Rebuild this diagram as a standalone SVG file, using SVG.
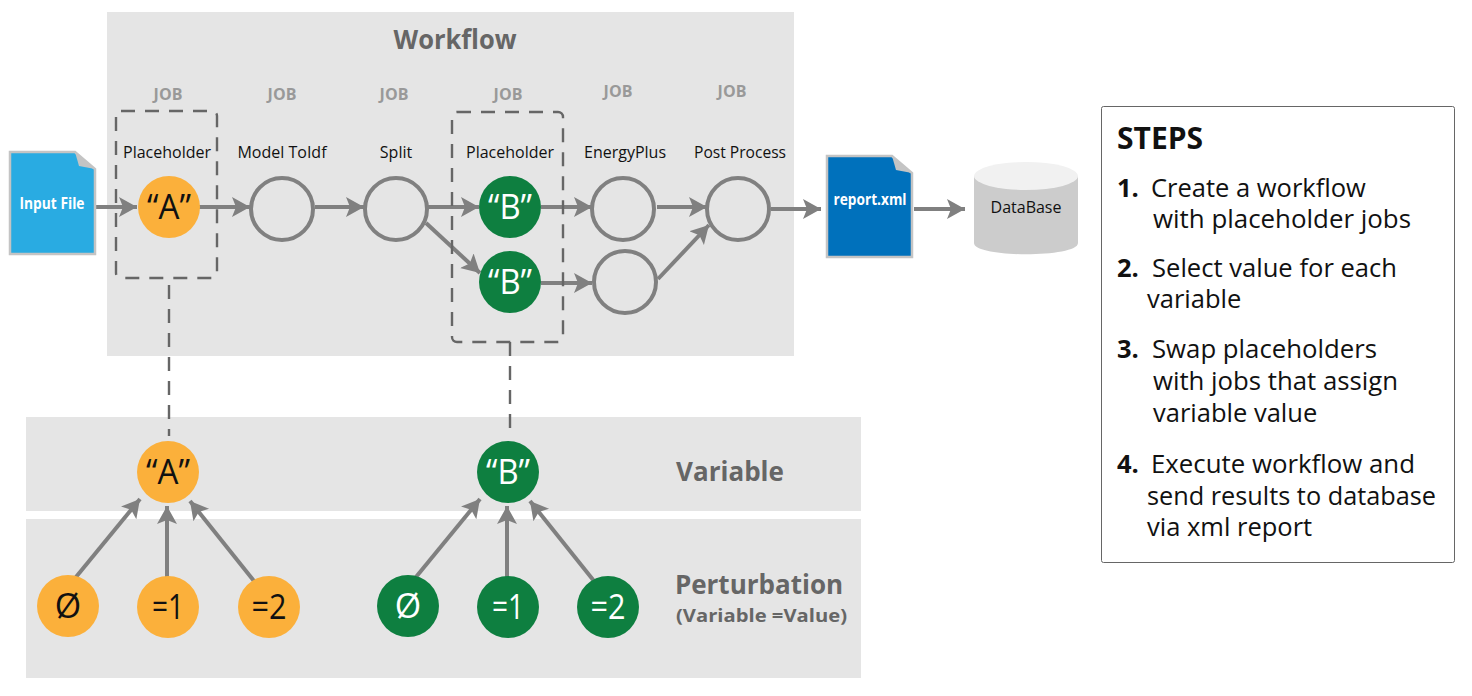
<svg xmlns="http://www.w3.org/2000/svg" width="1472" height="696" viewBox="0 0 1472 696">
<style>
text{font-family:"Open Sans","Noto Sans","Liberation Sans",sans-serif}
.band{fill:#e5e5e5}
.job{font-size:16px;font-weight:700;fill:#999;text-anchor:middle}
.nm{font-size:16px;fill:#111;text-anchor:middle}
.o{fill:#fbb03b}.g{fill:#0e7f40}.e{fill:none;stroke:#808080;stroke-width:4}
.big{font-size:34px;text-anchor:middle;fill:#111}
.bw{font-size:34px;text-anchor:middle;fill:#fff}
.c{fill:none;stroke:#808080;stroke-width:4;marker-end:url(#a)}
.d{fill:none;stroke:#666;stroke-width:2.4;stroke-dasharray:14 10}
.head{font-size:26px;font-weight:700;fill:#666;text-anchor:middle}
.s{font-size:25.5px;fill:#111}
.sb{font-size:25.5px;font-weight:700;fill:#111}
</style>
<defs>
<marker id="a" markerUnits="userSpaceOnUse" markerWidth="22" markerHeight="22" refX="18" refY="10" orient="auto"><path d="M0 0L18 10L0 20L4 10Z" fill="#808080"/></marker>
</defs>
<rect class="band" x="107" y="12" width="687" height="344"/>
<rect class="band" x="26" y="417" width="835" height="94"/>
<rect class="band" x="26" y="519" width="835" height="159"/>
<text class="head" x="455" y="49" textLength="123" lengthAdjust="spacingAndGlyphs">Workflow</text>
<text class="head" x="730" y="481">Variable</text>
<text class="head" x="759" y="593.5">Perturbation</text>
<text x="761.5" y="621.5" text-anchor="middle" style="font-size:18.5px;font-weight:700;fill:#666" textLength="171" lengthAdjust="spacingAndGlyphs">(Variable =Value)</text>
<g id="connectors">
<path class="c" d="M96 207H137"/>
<path class="c" d="M199 207H250"/>
<path class="c" d="M315 207H364"/>
<path class="c" d="M428 207H479"/>
<path class="c" d="M426 223L480 273"/>
<path class="c" d="M541 207H592"/>
<path class="c" d="M541 283H592"/>
<path class="c" d="M657 207H707"/>
<path class="c" d="M658 279L709 225"/>
<path class="c" d="M771 209H821"/>
<path class="c" d="M914 209H965"/>
<path class="c" d="M76 577L140 499"/>
<path class="c" d="M167 577V506"/>
<path class="c" d="M254 581L190 501"/>
<path class="c" d="M416 577L480 499"/>
<path class="c" d="M507 577V506"/>
<path class="c" d="M594 581L530 501"/>
<path class="d" d="M169 285V436"/>
<path class="d" d="M510 342V432"/>
</g>
<g id="input-file"><path d="M10 152H75L95 169V254H10Z" fill="#29abe2" stroke="#c4c4c4" stroke-width="2.5"/><path d="M75 152L95 169L79 166Z" fill="#c4c4c4"/><text x="52" y="209" text-anchor="middle" style="font-size:16px;font-weight:700;fill:#fff" textLength="65" lengthAdjust="spacingAndGlyphs">Input File</text></g>
<g id="job-a"><rect class="d" x="116" y="111" width="101" height="167" rx="5"/><text class="job" x="168" y="100">JOB</text><text class="nm" x="167" y="158">Placeholder</text><circle class="o" cx="169" cy="207" r="31"/><text class="big" x="169" y="219" textLength="44" lengthAdjust="spacingAndGlyphs">“A”</text></g>
<g id="job-model"><text class="job" x="282" y="100">JOB</text><text class="nm" x="282" y="158">Model ToIdf</text><circle class="e" cx="282" cy="209" r="31"/></g>
<g id="job-split"><text class="job" x="394" y="100">JOB</text><text class="nm" x="396" y="158">Split</text><circle class="e" cx="396" cy="209" r="31"/></g>
<g id="job-b"><rect class="d" x="452" y="112" width="111" height="230" rx="5"/><text class="job" x="508" y="100">JOB</text><text class="nm" x="510" y="158">Placeholder</text><circle class="g" cx="510" cy="207" r="31"/><text class="bw" x="510" y="219" textLength="44" lengthAdjust="spacingAndGlyphs">“B”</text><circle class="g" cx="510" cy="282" r="31"/><text class="bw" x="510" y="294" textLength="44" lengthAdjust="spacingAndGlyphs">“B”</text></g>
<g id="job-energy"><text class="job" x="618" y="97">JOB</text><text class="nm" x="625" y="158">EnergyPlus</text><circle class="e" cx="623" cy="209" r="31"/><circle class="e" cx="625" cy="282" r="31"/></g>
<g id="job-post"><text class="job" x="732" y="97">JOB</text><text class="nm" x="740" y="158" textLength="92" lengthAdjust="spacingAndGlyphs">Post Process</text><circle class="e" cx="738" cy="209" r="31"/></g>
<g id="report"><path d="M827 156H892L912 173V257H827Z" fill="#0071bc" stroke="#c4c4c4" stroke-width="2.5"/><path d="M892 156L912 173L896 170Z" fill="#c4c4c4"/><text x="870" y="205" text-anchor="middle" style="font-size:16px;font-weight:700;fill:#fff" textLength="73" lengthAdjust="spacingAndGlyphs">report.xml</text></g>
<g id="database"><path d="M974 176V243C974 258 1078 258 1078 243V176Z" fill="#ccc"/><ellipse cx="1026" cy="176" rx="52" ry="14" fill="#f1f1f1"/><text x="1026" y="213" text-anchor="middle" style="font-size:16px;fill:#111">DataBase</text></g>
<g id="var-a"><circle class="o" cx="168" cy="472" r="31"/><text class="big" x="168" y="484" textLength="44" lengthAdjust="spacingAndGlyphs">“A”</text></g>
<g id="var-b"><circle class="g" cx="508" cy="472" r="31"/><text class="bw" x="508" y="484" textLength="44" lengthAdjust="spacingAndGlyphs">“B”</text></g>
<g id="pa0"><circle class="o" cx="68" cy="606" r="31"/><text class="big" x="68" y="618">Ø</text></g>
<g id="pa1"><circle class="o" cx="168" cy="607" r="31"/><text class="big" x="168" y="619" textLength="32" lengthAdjust="spacingAndGlyphs">=1</text></g>
<g id="pa2"><circle class="o" cx="269" cy="607" r="31"/><text class="big" x="269" y="619" textLength="35" lengthAdjust="spacingAndGlyphs">=2</text></g>
<g id="pb0"><circle class="g" cx="408" cy="606" r="31"/><text class="bw" x="408" y="618">Ø</text></g>
<g id="pb1"><circle class="g" cx="508" cy="607" r="31"/><text class="bw" x="508" y="619" textLength="32" lengthAdjust="spacingAndGlyphs">=1</text></g>
<g id="pb2"><circle class="g" cx="608" cy="607" r="31"/><text class="bw" x="608" y="619" textLength="35" lengthAdjust="spacingAndGlyphs">=2</text></g>
<g id="steps"><rect x="1101.5" y="106.5" width="353" height="456" rx="2" fill="#fff" stroke="#666" stroke-width="1"/>
<text x="1117" y="149" style="font-size:30px;font-weight:700;fill:#111">STEPS</text>
<text class="sb" x="1117" y="197">1.</text><text class="s" x="1151" y="197">Create a workflow</text>
<text class="s" x="1153" y="228" textLength="258" lengthAdjust="spacingAndGlyphs">with placeholder jobs</text>
<text class="sb" x="1117" y="277">2.</text><text class="s" x="1152" y="277" textLength="245" lengthAdjust="spacingAndGlyphs">Select value for each</text>
<text class="s" x="1147" y="308">variable</text>
<text class="sb" x="1117" y="358">3.</text><text class="s" x="1152" y="358" textLength="225" lengthAdjust="spacingAndGlyphs">Swap placeholders</text>
<text class="s" x="1153" y="390" textLength="245" lengthAdjust="spacingAndGlyphs">with jobs that assign</text>
<text class="s" x="1153" y="422">variable value</text>
<text class="sb" x="1117" y="473">4.</text><text class="s" x="1151" y="473" textLength="264" lengthAdjust="spacingAndGlyphs">Execute workflow and</text>
<text class="s" x="1147" y="505" textLength="289" lengthAdjust="spacingAndGlyphs">send results to database</text>
<text class="s" x="1147" y="536">via xml report</text></g>
</svg>
